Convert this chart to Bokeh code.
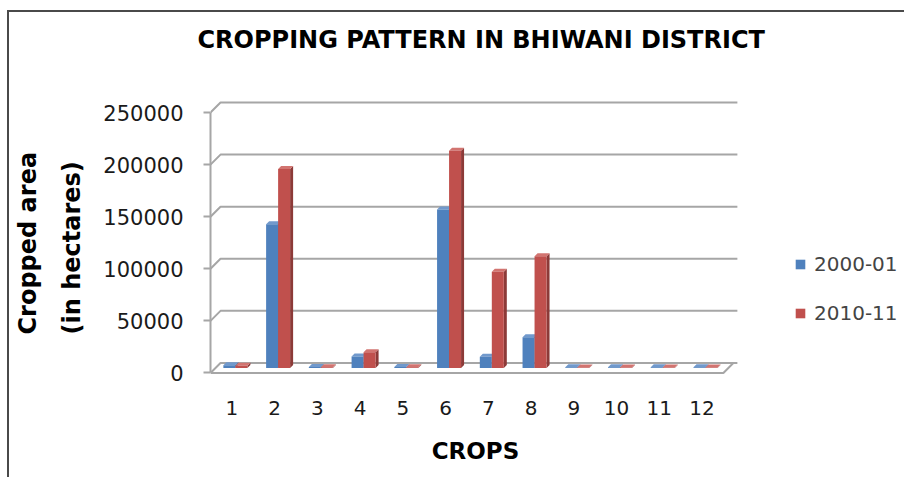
import numpy as np
from bokeh.plotting import figure
from bokeh.layouts import row
from bokeh.models import Range1d, Legend, LegendItem, Title, FixedTicker
from bokeh.embed import file_html
from bokeh.resources import INLINE

# ---------------- data ----------------
crops = list(range(1, 13))
tick_labels = [str(c) for c in crops]
series_names = ["2000-01", "2010-11"]
series_colors = ["#4F81BD", "#C0504D"]
area_2000 = [2500, 138000, 800, 11000, 800, 152000, 10800, 29400, 600, 600, 600, 600]
area_2010 = [2200, 191000, 700, 15000, 700, 208500, 92400, 107100, 500, 500, 500, 500]
y_ticks = [0, 50000, 100000, 150000, 200000, 250000]
y_tick_labels = [str(v) for v in y_ticks]

# ---------------- geometry / style ----------------
CW, CH = 780, 465                  # main canvas size
LW = 904 - 9 - CW                  # legend canvas width
PXX = 42.74                        # px per category
FRAME_W = 530
X0 = 0.5
X1 = X0 + FRAME_W / PXX
PXY = 278.6 / 267800               # px per unit
Y0 = -1500
Y1 = Y0 + (373.6 - 57) / PXY
def dx(px): return px / PXX
def dy(px): return px / PXY

DX, DY = dx(10), dy(10)            # depth of the chart box
MDX, MDY = dx(5), dy(5)            # bars sit mid depth
SDX, SDY = dx(3), dy(3)            # bar depth
BW = dx(12)                        # bar width
SHIFT = dx(3.5) - MDX              # pair shift in front plane

GRID = "#a6a6a6"
FONT = "DejaVu Sans"

p = figure(width=CW, height=CH, output_backend="svg", toolbar_location=None,
           x_range=Range1d(X0, X1), y_range=Range1d(Y0, Y1),
           min_border_left=201, min_border_right=CW - 201 - FRAME_W,
           min_border_top=45, min_border_bottom=103)
p.outline_line_color = None
p.xgrid.visible = False
p.ygrid.visible = False
p.background_fill_color = "white"
p.border_fill_color = "white"

# gridlines (back wall + side wall diagonals)
n_cat = len(crops)
x_floor_r = X0 + n_cat
xr = x_floor_r + DX + dx(4)
gx = [[X0, X0 + DX, xr] for v in y_ticks]
gy = [[v, v + DY, v + DY] for v in y_ticks]
p.multi_line(gx, gy, line_color=GRID, line_width=2)
# floor front edge and right diagonal
p.line([X0, x_floor_r, x_floor_r + DX], [0, 0, DY], line_color=GRID, line_width=2)

# bars
cx = np.array(crops, dtype=float)
def draw_series(vals, left_off, c_front, c_side, c_top):
    v = np.array(vals, dtype=float)
    l = cx + SHIFT + left_off + MDX
    r = l + BW
    b = np.full_like(v, MDY)
    t = v + MDY
    side_xs = [[ri, ri + SDX, ri + SDX, ri] for ri in r]
    side_ys = [[bi, bi + SDY, ti + SDY, ti] for bi, ti in zip(b, t)]
    top_xs = [[li, ri, ri + SDX, li + SDX] for li, ri in zip(l, r)]
    top_ys = [[ti, ti, ti + SDY, ti + SDY] for ti in t]
    p.patches(side_xs, side_ys, fill_color=c_side, line_color=None)
    p.patches(top_xs, top_ys, fill_color=c_top, line_color=None)
    return p.quad(left=l, right=r, bottom=b, top=t, fill_color=c_front, line_color=None)

draw_series(area_2000, -BW, series_colors[0], "#375E8F", "#7199CC")
draw_series(area_2010, 0.0, series_colors[1], "#8C3A38", "#D27470")

# axes
yax = p.yaxis[0]
yax.ticker = FixedTicker(ticks=y_ticks)
yax.major_label_overrides = {v: s for v, s in zip(y_ticks, y_tick_labels)}
yax.bounds = (0, 250000)
yax.axis_line_color = GRID
yax.axis_line_width = 2
yax.major_tick_line_color = GRID
yax.major_tick_line_width = 2
yax.major_tick_out = 7
yax.major_tick_in = 0
yax.minor_tick_line_color = None
yax.major_label_standoff = 20
yax.major_label_text_font = FONT
yax.major_label_text_font_size = "21px"
yax.major_label_text_color = "#1a1a1a"

xax = p.xaxis[0]
xax.ticker = FixedTicker(ticks=crops)
xax.major_label_overrides = {c: s for c, s in zip(crops, tick_labels)}
xax.axis_line_color = None
xax.major_tick_line_color = None
xax.minor_tick_line_color = None
xax.major_label_standoff = 20
xax.major_label_text_font = FONT
xax.major_label_text_font_size = "20px"
xax.major_label_text_color = "#1a1a1a"
xax.axis_label = "CROPS"
xax.axis_label_text_font = FONT
xax.axis_label_text_font_style = "bold"
xax.axis_label_text_font_size = "23px"
xax.axis_label_text_color = "black"
xax.axis_label_standoff = 20

# titles
p.title.text = "CROPPING PATTERN IN BHIWANI DISTRICT"
p.title.text_font = FONT
p.title.text_font_style = "bold"
p.title.text_font_size = "24px"
p.title.text_color = "black"
p.title.align = "left"
p.title.offset = -13
p.title.standoff = 7

t_in = Title(text="(in hectares)", align="left", offset=40, standoff=29, text_font=FONT,
             text_font_style="bold", text_font_size="24px", text_color="black")
t_cr = Title(text="Cropped area", align="left", offset=40, standoff=0, text_font=FONT,
             text_font_style="bold", text_font_size="24px", text_color="black")
p.add_layout(t_in, "left")
p.add_layout(t_cr, "left")

# legend panel (its frame is aligned with the main frame by the row)
pl = figure(width=LW, height=CH, output_backend="svg", toolbar_location=None,
            x_range=Range1d(0, 1), y_range=Range1d(0, 1),
            x_axis_type=None, y_axis_type=None,
            min_border_left=0, min_border_right=0, min_border_top=0, min_border_bottom=0)
pl.outline_line_color = None
pl.grid.visible = False
pl.background_fill_color = "white"
pl.border_fill_color = "white"
# swatch renderers kept outside the visible range; they only feed the legend
leg_r = [pl.quad(left=[-2], right=[-1], bottom=[-2], top=[-1], fill_color=c, line_color=None)
         for c in series_colors]
legend = Legend(items=[LegendItem(label=n, renderers=[r]) for n, r in zip(series_names, leg_r)],
                location=(5, 49), orientation="vertical",
                glyph_width=12, glyph_height=12, label_standoff=8,
                label_text_font=FONT, label_text_font_size="20px",
                label_height=20, spacing=25, padding=0, margin=0,
                border_line_color=None, background_fill_color=None)
pl.add_layout(legend, "center")

layout = row(p, pl, styles={"margin-left": "7px", "margin-top": "10px",
                            "border-left": "2px solid #4a4a4a",
                            "border-top": "2px solid #4a4a4a"})

open("out.html", "w").write(file_html(layout, INLINE))
